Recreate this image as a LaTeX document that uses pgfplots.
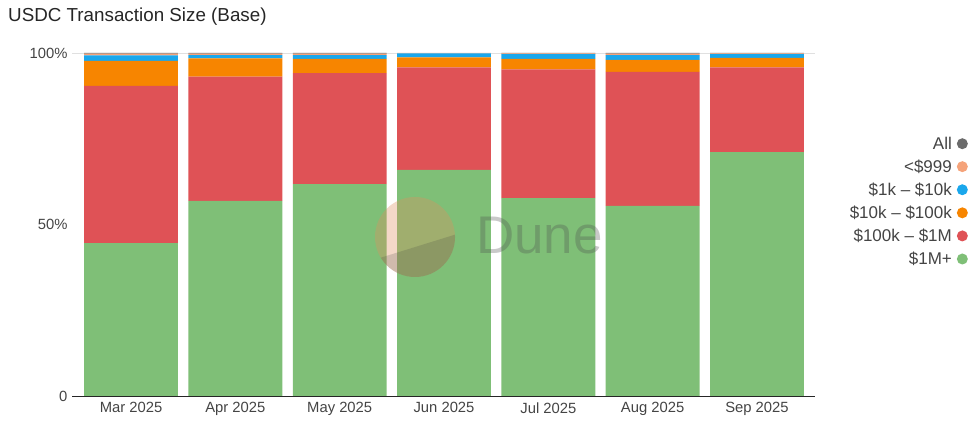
\documentclass[border=0pt]{standalone}
\usepackage{pgfplots}
\pgfplotsset{compat=1.18}
\usepackage{fontspec}
\setmainfont{Liberation Sans}

\definecolor{cGreen}{HTML}{7FBF77}
\definecolor{cRed}{HTML}{DF5256}
\definecolor{cOrange}{HTML}{F78500}
\definecolor{cBlue}{HTML}{1AA7EC}
\definecolor{cSmall}{HTML}{F5A37A}
\definecolor{cAll}{HTML}{6B6B6B}
\definecolor{cText}{HTML}{444444}
\definecolor{cMark}{HTML}{E09060}

\pgfplotsset{
  dotleg/.style={legend image code/.code={%
    \path[fill=none,draw=none] (0pt,0pt) coordinate (l1) (15pt,0pt) coordinate (l2);
    \fill[##1,draw=none] (9.5pt,0pt) circle (5.5pt);}},
}

\begin{document}
\begin{tikzpicture}
\path[use as bounding box] (0,0) rectangle (976pt,427pt);
\node[anchor=base west, font=\fontsize{18.8}{20}\selectfont, text=black!85, inner sep=0pt] at (8pt,405pt) {USDC Transaction Size (Base)};

\begin{axis}[
  at={(72pt,31pt)}, anchor=south west,
  scale only axis, width=743pt, height=343pt,
  ybar stacked, bar width=0.9,
  xmin=-0.566, xmax=6.556, ymin=0, ymax=100,
  xtick={0,...,6},
  xticklabels={Mar 2025,Apr 2025,May 2025,Jun 2025,Jul 2025,Aug 2025,Sep 2025},
  ytick={0,50,100}, yticklabels={0,50\%,100\%},
  extra y ticks={100}, extra y tick labels={},
  extra y tick style={grid=major, major grid style={black!12, line width=0.8pt}},
  major tick length=0pt,
  axis x line*=bottom, axis y line*=left,
  x axis line style={black!85, line width=0.8pt, -},
  y axis line style={draw=none},
  tick label style={font=\fontsize{14.8}{16}\selectfont, text=cText},
  xticklabel style={yshift=-3pt},
  yticklabel style={xshift=-1pt},
  /pgf/number format/assume math mode=true,
  legend style={at={(1.21,0.765)}, anchor=north east, draw=none, fill=none,
    font=\fontsize{17}{19}\selectfont, text=cText, row sep=7pt,
    nodes={inner sep=1pt}},
  legend cell align=right, legend plot pos=right, reverse legend,
]
\addplot[fill=cGreen, draw=none, dotleg] coordinates {(0,44.6) (1,56.9) (2,61.8) (3,65.9) (4,57.7) (5,55.4) (6,71.1)};
\addplot[fill=cRed, draw=none, dotleg] coordinates {(0,45.8) (1,36.2) (2,32.3) (3,29.9) (4,37.5) (5,39.1) (6,24.7)};
\addplot[fill=cOrange, draw=none, dotleg] coordinates {(0,7.3) (1,5.3) (2,4.2) (3,2.9) (4,3.1) (5,3.5) (6,2.8)};
\addplot[fill=cBlue, draw=none, dotleg] coordinates {(0,1.6) (1,1.0) (2,1.1) (3,1.2) (4,1.4) (5,1.4) (6,1.1)};
\addplot[fill=cSmall, draw=none, dotleg] coordinates {(0,0.5) (1,0.4) (2,0.4) (3,0.1) (4,0.2) (5,0.4) (6,0.2)};
\addplot[fill=cAll, draw=none, dotleg] coordinates {(0,0.2) (1,0.2) (2,0.2) (3,0.0) (4,0.1) (5,0.2) (6,0.1)};
\legend{\$1M+,\$100k – \$1M,\$10k – \$100k,\$1k – \$10k,<\$999,All}
\end{axis}

% watermark
\fill[cMark, fill opacity=0.35] (415pt,190pt) circle (40pt);
\begin{scope}
\clip (415pt,190pt) circle (40pt);
\fill[black!75, fill opacity=0.2] (360pt,162.9pt) -- (470pt,197pt) -- (470pt,140pt) -- (360pt,140pt) -- cycle;
\end{scope}
\node[anchor=west, inner sep=0pt, font=\fontsize{53}{55}\selectfont, text=black!70, text opacity=0.3] at (476pt,191pt) {Dune};
\end{tikzpicture}
\end{document}
